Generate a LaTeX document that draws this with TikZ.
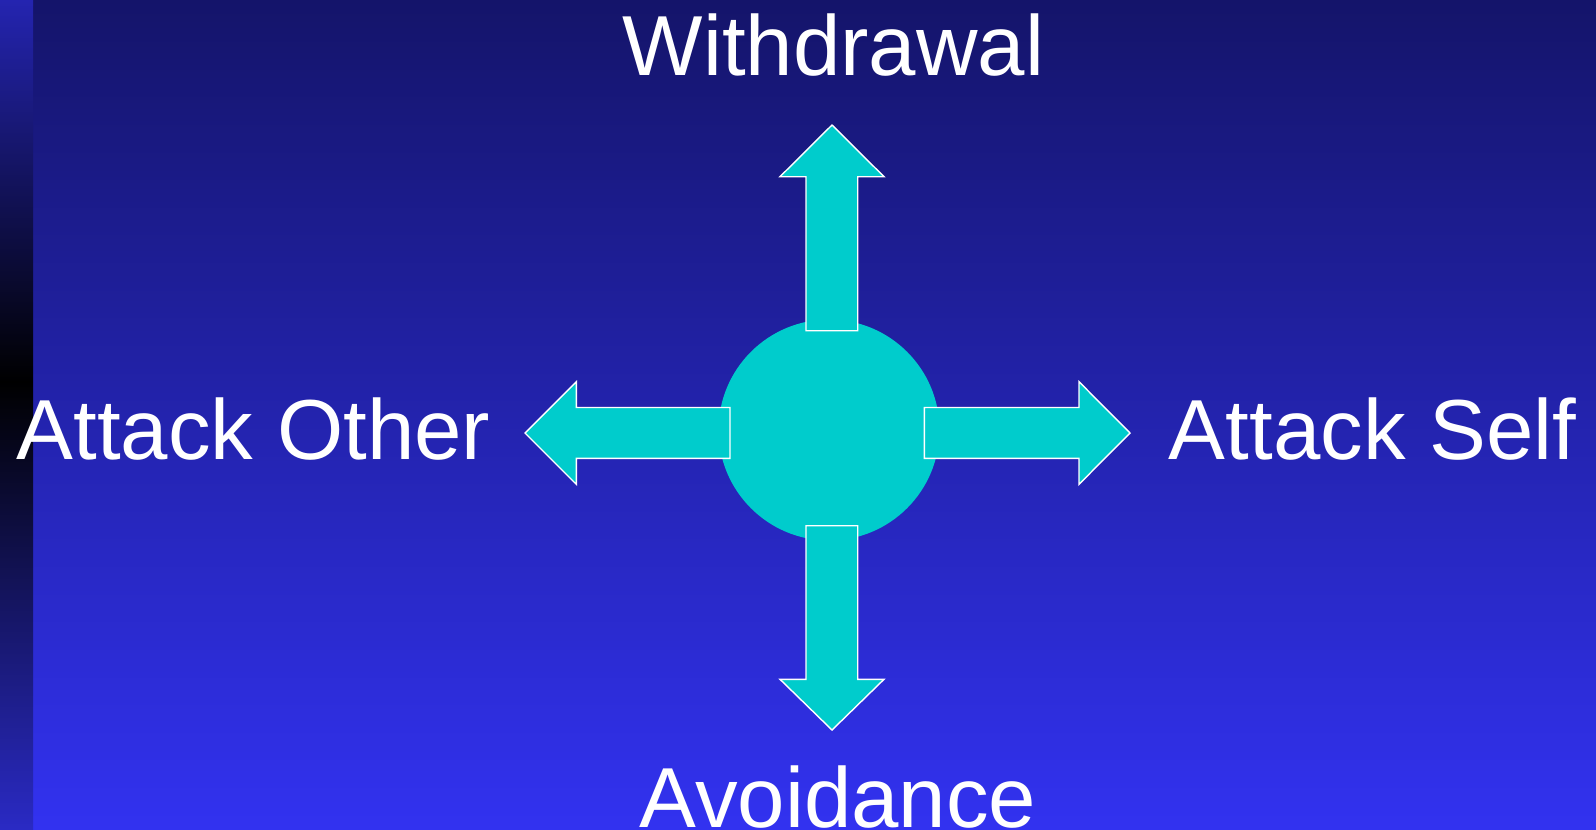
\documentclass[tikz,border=0pt]{standalone}
\usepackage{fontspec}
\setmainfont{Liberation Sans}
\usetikzlibrary{calc}

\definecolor{stripTop}{HTML}{2424B0}
\definecolor{stripBottom}{HTML}{2A2AC4}
\pgfdeclareverticalshading{stripShade}{100bp}{color(0bp)=(stripBottom); color(25bp)=(stripBottom); color(52bp)=(black); color(75bp)=(stripTop); color(100bp)=(stripTop)}

\begin{document}
\begin{tikzpicture}[x=0.02cm, y=-0.02cm,
    blockArrow/.style={fill=arrowFill, draw=white, line width=0.8pt, line join=miter},
    label/.style={text=white, font=\fontsize{48.5}{58}\selectfont, inner sep=0pt, anchor=base}]
    % Define colours
    \definecolor{topBlue}{HTML}{14146A}
    \definecolor{bottomBlue}{HTML}{3232F0}
    \definecolor{arrowFill}{HTML}{00CCCC}

    % Draw background
    \useasboundingbox (0,0) rectangle (1596,829);
    \shade[top color=topBlue, bottom color=bottomBlue] (0,0) rectangle (1596,829);
    \shade[shading=stripShade] (0,0) rectangle (33,829);

    % Define the centre disc
    \coordinate (hub) at (829,430);
    \fill[arrowFill] (hub) circle (110.5);

    % Draw the four block arrows
    \filldraw[blockArrow] (806,330.7) -- (806,176.7) -- (780,176.7) -- (832,125)
        -- (884,176.7) -- (857.7,176.7) -- (857.7,330.7) -- cycle;
    \filldraw[blockArrow] (806,525.7) -- (806,679.3) -- (780,679.3) -- (832,730)
        -- (884,679.3) -- (857.7,679.3) -- (857.7,525.7) -- cycle;
    \filldraw[blockArrow] (730,407.5) -- (576.3,407.5) -- (576.3,381.7) -- (525,433)
        -- (576.3,484.3) -- (576.3,458.3) -- (730,458.3) -- cycle;
    \filldraw[blockArrow] (924.3,407.5) -- (1079,407.5) -- (1079,381.7) -- (1130,433)
        -- (1079,484.3) -- (1079,458.3) -- (924.3,458.3) -- cycle;

    % Label the four directions
    \node[label] (withdrawal) at (833.5,75) {Withdrawal};
    \node[label] (avoidance) at (838,827) {Avoidance};
    \node[label] (attackOther) at (253.5,459) {Attack Other};
    \node[label] (attackSelf) at (1372.5,459) {Attack Self};

\end{tikzpicture}
\end{document}
